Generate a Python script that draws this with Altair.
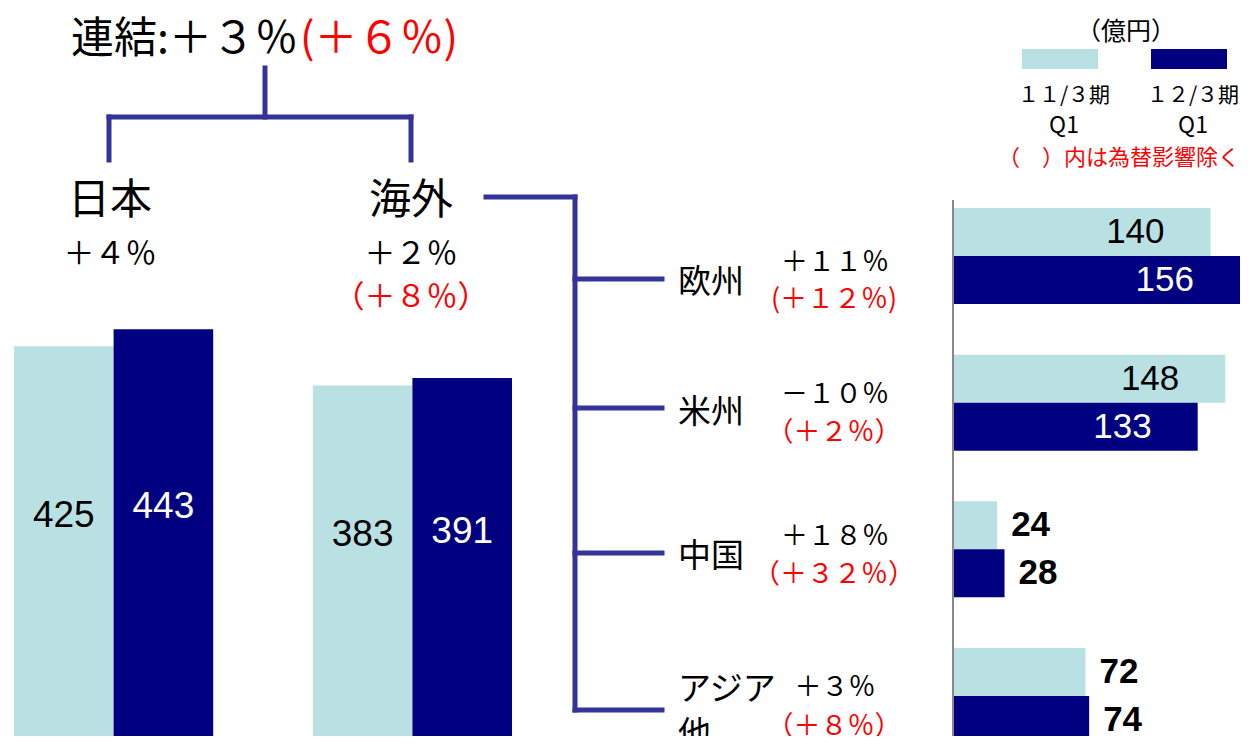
import altair as alt
import pandas as pd

# ---------------- data ----------------
periods = ["11/3期 Q1", "12/3期 Q1"]
period_line1 = ["１１/３期", "１２/３期"]
period_line2 = ["Q1", "Q1"]

v_regions = ["日本", "海外"]
v_prev = [425, 383]
v_curr = [443, 391]
v_change = ["＋４％", "＋２％"]
v_change_fx = ["", "（＋８％）"]

h_regions = ["欧州", "米州", "中国", "アジア他"]
h_region_lines = [["欧州"], ["米州"], ["中国"], ["アジア", "他"]]
h_prev = [140, 148, 24, 72]
h_curr = [156, 133, 28, 74]
h_change = ["＋１１％", "－１０％", "＋１８％", "＋３％"]
h_change_fx = ["(＋１２％)", "（＋２％）", "（＋３２％）", "（＋８％）"]

title_main = "連結:＋３％"
title_fx = "(＋６％)"
unit_label = "（億円）"
note_label = "（　）内は為替影響除く"

# ---------------- styles ----------------
LIGHT = "#B9E0E3"
DARK = "#000080"
TREE = "#333399"
RED = "#FF0000"
JP = "Noto Sans CJK JP"
NUM = "Liberation Sans"
OX, OY = 8, 8  # page margin

vdf = pd.DataFrame({
    "region": [r for r in v_regions for _ in periods],
    "period": periods * len(v_regions),
    "value": [v for pair in zip(v_prev, v_curr) for v in pair],
})
hdf = pd.DataFrame({
    "region": [r for r in h_regions for _ in periods],
    "period": periods * len(h_regions),
    "value": [v for pair in zip(h_prev, h_curr) for v in pair],
})

one = pd.DataFrame({"a": [0]})


def txt(s, x, y, size, color="black", align="center", font=JP, weight="normal"):
    return alt.Chart(pd.DataFrame({"t": [s]})).mark_text(
        align=align, baseline="middle", fontSize=size, font=font,
        color=color, fontWeight=weight
    ).encode(x=alt.value(x - OX), y=alt.value(y - OY), text="t:N")


def seg(x1, y1, x2, y2, color=TREE, width=5):
    return alt.Chart(one).mark_rule(color=color, strokeWidth=width, strokeCap="square").encode(
        x=alt.value(x1 - OX), y=alt.value(y1 - OY),
        x2=alt.value(x2 - OX), y2=alt.value(y2 - OY))


# ---------------- vertical bars (日本 / 海外) ----------------
vx = alt.X("region:N", scale=alt.Scale(domain=v_regions, range=[6, 504],
                                        paddingInner=1 / 3, paddingOuter=0), axis=None)
vxo = alt.XOffset("period:N", scale=alt.Scale(domain=periods, paddingInner=0, paddingOuter=0))
vy_scale = alt.Scale(domain=[0, 500], range=[736, 736 - 500 * 0.936])

vbars = alt.Chart(vdf).mark_bar(clip=True).encode(
    x=vx, xOffset=vxo,
    y=alt.Y("value:Q", scale=vy_scale, axis=None),
    color=alt.Color("period:N", scale=alt.Scale(domain=periods, range=[LIGHT, DARK]), legend=None),
)
vlabels = alt.Chart(vdf).transform_calculate(mid="(datum.value + 63) / 2").mark_text(
    font=NUM, fontSize=37, baseline="middle", align="center"
).encode(
    x=vx, xOffset=vxo,
    y=alt.Y("mid:Q", scale=vy_scale, axis=None),
    text="value:Q",
    color=alt.condition(alt.datum.period == periods[0], alt.value("black"), alt.value("white")),
)
vlayer = alt.layer(vbars, vlabels)

# ---------------- horizontal bars (regions) ----------------
hy = alt.Y("region:N", scale=alt.Scale(domain=h_regions, range=[200, 736],
                                        paddingInner=0.345, paddingOuter=0), axis=None)
hyo = alt.YOffset("period:N", scale=alt.Scale(domain=periods, paddingInner=0, paddingOuter=0))
hx_scale = alt.Scale(domain=[0, 156], range=[945, 1232])

hbars = alt.Chart(hdf).mark_bar(clip=True).encode(
    y=hy, yOffset=hyo,
    x=alt.X("value:Q", scale=hx_scale, axis=None),
    color=alt.Color("period:N", scale=alt.Scale(domain=periods, range=[LIGHT, DARK]), legend=None),
)
haxis = alt.Chart(one).mark_rule(color="#888888", strokeWidth=2).encode(
    x=alt.X("a:Q", scale=hx_scale, axis=None), y=alt.value(192), y2=alt.value(736))
hin = alt.Chart(hdf).transform_filter(alt.datum.value >= 100).mark_text(
    font=NUM, fontSize=35, baseline="middle", align="right", dx=-46
).encode(
    y=hy, yOffset=hyo,
    x=alt.X("value:Q", scale=hx_scale, axis=None),
    text="value:Q",
    color=alt.condition(alt.datum.period == periods[0], alt.value("black"), alt.value("white")),
)
hout = alt.Chart(hdf).transform_filter(alt.datum.value < 100).mark_text(
    font=NUM, fontSize=35, fontWeight="bold", baseline="middle", align="left", dx=14, color="black"
).encode(
    y=hy, yOffset=hyo,
    x=alt.X("value:Q", scale=hx_scale, axis=None),
    text="value:Q",
)
hlayer = alt.layer(hbars, haxis, hin, hout)

# ---------------- annotations ----------------
ann = []
# title
ann.append(txt(title_main, 298, 40, 43, align="right"))
ann.append(txt(title_fx, 300, 40, 43, color=RED, align="left"))
# tree
ann += [
    seg(265, 68, 265, 117),
    seg(109, 117, 411, 117),
    seg(109, 117, 109, 160),
    seg(411, 117, 411, 160),
    seg(486, 197, 575, 197),
    seg(575, 197, 575, 710),
]
for yb in [279, 408, 553, 710]:
    ann.append(seg(575, yb, 662, yb))

# Japan / Overseas
vcx = [110, 411]
for i, r in enumerate(v_regions):
    ann.append(txt(r, vcx[i], 201, 42))
    ann.append(txt(v_change[i], vcx[i], 255, 31))
    if v_change_fx[i]:
        ann.append(txt(v_change_fx[i], vcx[i], 298, 31, color=RED))

# regions
ry = [283, 413, 557, 690]
cy = [263, 395, 537, 688]
fy = [300, 433, 575, 727]
for i in range(len(h_regions)):
    for j, line in enumerate(h_region_lines[i]):
        ann.append(txt(line, 678, ry[i] + 45 * j, 33, align="left"))
    ann.append(txt(h_change[i], 835, cy[i], 27))
    ann.append(txt(h_change_fx[i], 834, fy[i], 27, color=RED))

# legend
ann.append(txt(unit_label, 1126, 32, 25))
lx = [1060, 1189]
for i, p in enumerate(periods):
    ann.append(alt.Chart(one).mark_rect(color=[LIGHT, DARK][i]).encode(
        x=alt.value(lx[i] - 38 - OX), x2=alt.value(lx[i] + 38 - OX),
        y=alt.value(49 - OY), y2=alt.value(69 - OY)))
    ann.append(txt(period_line1[i], lx[i] + 4, 96, 21))
    ann.append(txt(period_line2[i], lx[i] + 4, 126, 23))
ann.append(txt(note_label, 1240, 158, 22, color=RED, align="right"))

chart = alt.layer(vlayer, hlayer, *ann).resolve_scale(
    x="independent", y="independent", color="independent"
).properties(
    width=1232, height=728, padding=0,
    autosize=alt.AutoSizeParams(type="none"),
).configure_view(stroke=None)

chart.save("out.html", embed_options={"renderer": "svg", "actions": False})
